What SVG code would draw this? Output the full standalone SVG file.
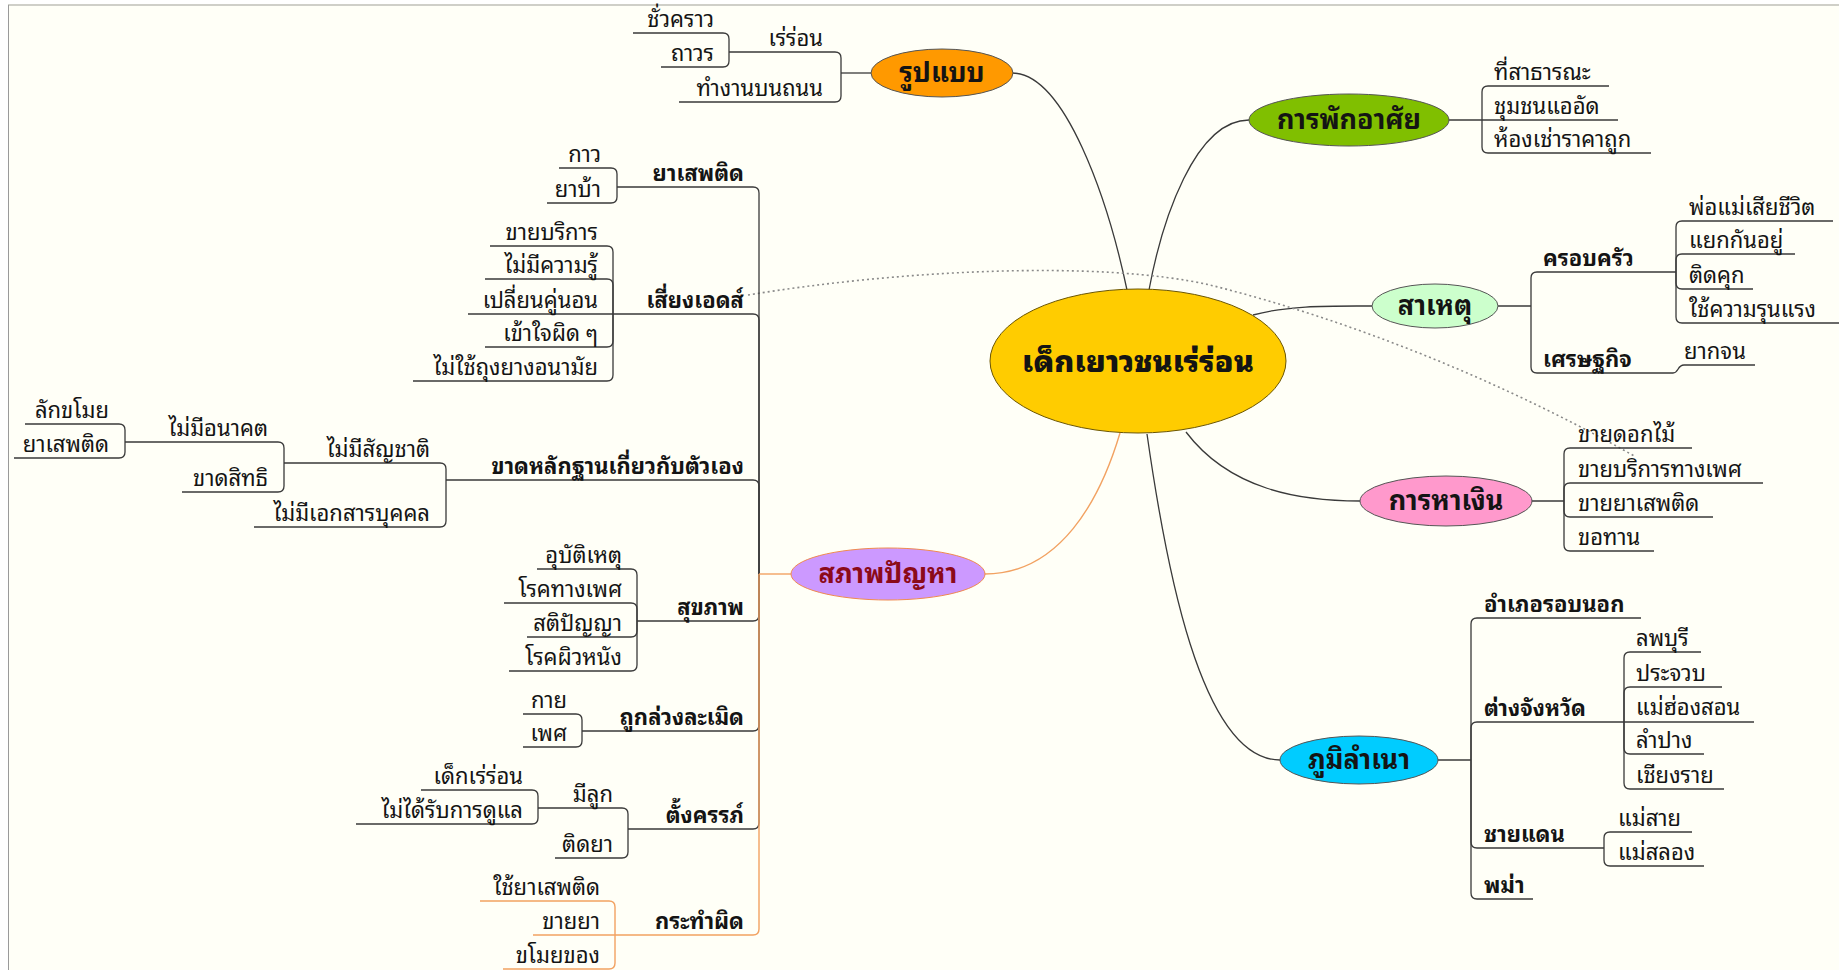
<svg xmlns="http://www.w3.org/2000/svg" width="1839" height="970" viewBox="0 0 1839 970">
<style>
.ln{fill:none;stroke:#3a3a3a;stroke-width:1.3}
.or{fill:none;stroke:#F2A262;stroke-width:1.4}
.dot{fill:none;stroke:#8a8a8a;stroke-width:1.6;stroke-dasharray:2 3}
text{font-family:"Noto Sans Thai Looped","Noto Sans Thai","Noto Serif Thai","Noto Sans","DejaVu Sans",sans-serif;font-size:22px;fill:#141414}
.b{font-weight:bold}
.e{text-anchor:end}
.m{text-anchor:middle;font-weight:bold;font-size:27px}
.c{text-anchor:middle;font-weight:900;font-size:30px}
.el{stroke:#555;stroke-width:1}
</style>
<rect x="0" y="0" width="1839" height="970" fill="#ffffff"/>
<rect x="8" y="5" width="1831" height="965" fill="#FFFFF7"/>
<line x1="8" y1="5" x2="1839" y2="5" stroke="#cfcfc8" stroke-width="2"/>
<line x1="8.5" y1="5" x2="8.5" y2="970" stroke="#9a9a9a" stroke-width="1"/>

<g id="connectors">
<path class="ln" d="M1012,73 C1065,73 1108,200 1127,290"/>
<path class="ln" d="M1249,120 C1195,120 1162,220 1149,290"/>
<path class="ln" d="M1253,315 C1290,305 1330,306 1372,306"/>
<path class="ln" d="M1186,432 C1230,490 1300,501 1360,501"/>
<path class="ln" d="M1147,434 C1165,560 1200,760 1280,760"/>
<path class="or" d="M985,574 C1060,574 1100,500 1120,433"/>
<path class="dot" d="M748,295 C900,270 1100,260 1210,285 C1350,320 1500,380 1636,457"/>
<path class="ln" d="M759,574 V193 Q759,187 753,187 H617"/>
<path class="ln" d="M759,574 V320 Q759,314 753,314 H613"/>
<path class="ln" d="M759,574 V486 Q759,480 753,480 H446"/>
<path class="ln" d="M759,574 V615 Q759,621 753,621 H637"/>
<path class="ln" d="M759,574 V725 Q759,731 753,731 H582"/>
<path class="ln" d="M759,574 V823 Q759,829 753,829 H628"/>
<path class="or" d="M759,574 V929 Q759,935 753,935 H615"/>
<path class="or" d="M791,574 H759"/>
<path class="ln" d="M617,187 V174 Q617,168 611,168 H559"/>
<path class="ln" d="M617,187 V197 Q617,203 611,203 H547"/>
<path class="ln" d="M613,314 V252 Q613,246 607,246 H490"/>
<path class="ln" d="M613,314 V285 Q613,279 607,279 H485"/>
<path class="ln" d="M613,314 H468"/>
<path class="ln" d="M613,314 V341 Q613,347 607,347 H485"/>
<path class="ln" d="M613,314 V375 Q613,381 607,381 H413"/>
<path class="ln" d="M446,480 V469 Q446,463 440,463 H284"/>
<path class="ln" d="M446,480 V521 Q446,527 440,527 H254"/>
<path class="ln" d="M284,463 V448 Q284,442 278,442 H125"/>
<path class="ln" d="M284,463 V486 Q284,492 278,492 H182"/>
<path class="ln" d="M125,442 V430 Q125,424 119,424 H25"/>
<path class="ln" d="M125,442 V452 Q125,458 119,458 H14"/>
<path class="ln" d="M637,621 V575 Q637,569 631,569 H537"/>
<path class="ln" d="M637,621 V609 Q637,603 631,603 H504"/>
<path class="ln" d="M637,621 V631 Q637,637 631,637 H527"/>
<path class="ln" d="M637,621 V665 Q637,671 631,671 H509"/>
<path class="ln" d="M582,731 V720 Q582,714 576,714 H523"/>
<path class="ln" d="M582,731 V741 Q582,747 576,747 H523"/>
<path class="ln" d="M628,829 V814 Q628,808 622,808 H538"/>
<path class="ln" d="M628,829 V852 Q628,858 622,858 H555"/>
<path class="ln" d="M538,808 V796 Q538,790 532,790 H421"/>
<path class="ln" d="M538,808 V818 Q538,824 532,824 H356"/>
<path class="or" d="M615,935 V907 Q615,901 609,901 H480"/>
<path class="or" d="M615,935 H533"/>
<path class="or" d="M615,935 V963 Q615,969 609,969 H503"/>
<path class="ln" d="M871,73 H841"/>
<path class="ln" d="M841,73 V58 Q841,52 835,52 H729"/>
<path class="ln" d="M841,73 V96 Q841,102 835,102 H679"/>
<path class="ln" d="M729,52 V39 Q729,33 723,33 H633"/>
<path class="ln" d="M729,52 V61 Q729,67 723,67 H661"/>
<path class="ln" d="M1448,120 H1482"/>
<path class="ln" d="M1482,120 V92 Q1482,86 1488,86 H1609"/>
<path class="ln" d="M1482,120 H1618"/>
<path class="ln" d="M1482,120 V147 Q1482,153 1488,153 H1651"/>
<path class="ln" d="M1498,306 H1531"/>
<path class="ln" d="M1531,306 V278 Q1531,272 1537,272 H1676"/>
<path class="ln" d="M1531,306 V367 Q1531,373 1537,373 H1673"/>
<path class="ln" d="M1673,373 C1679,373 1677,365 1684,365 H1755"/>
<path class="ln" d="M1676,272 V227 Q1676,221 1682,221 H1833"/>
<path class="ln" d="M1676,272 V260 Q1676,254 1682,254 H1795"/>
<path class="ln" d="M1676,272 V283 Q1676,289 1682,289 H1753"/>
<path class="ln" d="M1676,272 V317 Q1676,323 1682,323 H1845"/>
<path class="ln" d="M1531,501 H1564"/>
<path class="ln" d="M1564,501 V454 Q1564,448 1570,448 H1692"/>
<path class="ln" d="M1564,501 V489 Q1564,483 1570,483 H1763"/>
<path class="ln" d="M1564,501 V511 Q1564,517 1570,517 H1713"/>
<path class="ln" d="M1564,501 V545 Q1564,551 1570,551 H1654"/>
<path class="ln" d="M1438,760 H1471"/>
<path class="ln" d="M1471,760 V624 Q1471,618 1477,618 H1641"/>
<path class="ln" d="M1471,760 V728 Q1471,722 1477,722 H1624"/>
<path class="ln" d="M1471,760 V842 Q1471,848 1477,848 H1604"/>
<path class="ln" d="M1471,760 V893 Q1471,899 1477,899 H1533"/>
<path class="ln" d="M1624,722 V658 Q1624,652 1630,652 H1701"/>
<path class="ln" d="M1624,722 V693 Q1624,687 1630,687 H1722"/>
<path class="ln" d="M1624,722 H1754"/>
<path class="ln" d="M1624,722 V748 Q1624,754 1630,754 H1704"/>
<path class="ln" d="M1624,722 V783 Q1624,789 1630,789 H1724"/>
<path class="ln" d="M1604,848 V838 Q1604,832 1610,832 H1692"/>
<path class="ln" d="M1604,848 V860 Q1604,866 1610,866 H1704"/>
</g>

<g id="center">
<ellipse cx="1138" cy="361" rx="148" ry="72" fill="#FFCC00" stroke="#6b5500" stroke-width="1"/>
<text class="c" x="1138" y="372">เด็กเยาวชนเร่ร่อน</text>
</g>
<g id="n-rupbaep">
<ellipse class="el" cx="942" cy="73" rx="71" ry="24" fill="#FF9900"/>
<text class="m" x="942" y="82">รูปแบบ</text>
<text class="e" x="823" y="46">เร่ร่อน</text>
<text class="e" x="823" y="96">ทำงานบนถนน</text>
<text class="e" x="714" y="27">ชั่วคราว</text>
<text class="e" x="714" y="61">ถาวร</text>
</g>
<g id="n-phak">
<ellipse class="el" cx="1349" cy="120" rx="100" ry="26" fill="#80BF00"/>
<text class="m" x="1349" y="129">การพักอาศัย</text>
<text x="1494" y="80">ที่สาธารณะ</text>
<text x="1494" y="114">ชุมชนแออัด</text>
<text x="1494" y="147">ห้องเช่าราคาถูก</text>
</g>
<g id="n-sahet">
<ellipse class="el" cx="1435" cy="306" rx="63" ry="22" fill="#CCFFCC"/>
<text class="m" x="1435" y="315">สาเหตุ</text>
<text class="b" x="1543" y="266">ครอบครัว</text>
<text class="b" x="1543" y="367">เศรษฐกิจ</text>
<text x="1684" y="359">ยากจน</text>
<text x="1689" y="215">พ่อแม่เสียชีวิต</text>
<text x="1689" y="248">แยกกันอยู่</text>
<text x="1689" y="283">ติดคุก</text>
<text x="1689" y="317">ใช้ความรุนแรง</text>
</g>
<g id="n-hangoen">
<ellipse class="el" cx="1446" cy="501" rx="86" ry="25" fill="#FF99CC"/>
<text class="m" x="1446" y="510">การหาเงิน</text>
<text x="1578" y="442">ขายดอกไม้</text>
<text x="1578" y="477">ขายบริการทางเพศ</text>
<text x="1578" y="511">ขายยาเสพติด</text>
<text x="1578" y="545">ขอทาน</text>
</g>
<g id="n-phumi">
<ellipse class="el" cx="1359" cy="760" rx="79" ry="24" fill="#00CCFF"/>
<text class="m" x="1359" y="769">ภูมิลำเนา</text>
<text class="b" x="1484" y="612">อำเภอรอบนอก</text>
<text class="b" x="1484" y="716">ต่างจังหวัด</text>
<text class="b" x="1484" y="842">ชายแดน</text>
<text class="b" x="1484" y="893">พม่า</text>
<text x="1636" y="646">ลพบุรี</text>
<text x="1636" y="681">ประจวบ</text>
<text x="1636" y="715">แม่ฮ่องสอน</text>
<text x="1636" y="748">ลำปาง</text>
<text x="1636" y="783">เชียงราย</text>
<text x="1618" y="826">แม่สาย</text>
<text x="1618" y="860">แม่สลอง</text>
</g>
<g id="n-saphap">
<ellipse cx="888" cy="574" rx="97" ry="26" fill="#CC99FF" stroke="#F08A50" stroke-width="1"/>
<text class="m" x="888" y="583" style="fill:#8B0A1A">สภาพปัญหา</text>
<text class="b e" x="744" y="181">ยาเสพติด</text>
<text class="b e" x="744" y="308">เสี่ยงเอดส์</text>
<text class="b e" x="744" y="474">ขาดหลักฐานเกี่ยวกับตัวเอง</text>
<text class="b e" x="744" y="615">สุขภาพ</text>
<text class="b e" x="744" y="725">ถูกล่วงละเมิด</text>
<text class="b e" x="744" y="823">ตั้งครรภ์</text>
<text class="b e" x="744" y="929">กระทำผิด</text>
<text class="e" x="601" y="162">กาว</text>
<text class="e" x="601" y="197">ยาบ้า</text>
<text class="e" x="598" y="240">ขายบริการ</text>
<text class="e" x="598" y="273">ไม่มีความรู้</text>
<text class="e" x="598" y="308">เปลี่ยนคู่นอน</text>
<text class="e" x="598" y="341">เข้าใจผิด ๆ</text>
<text class="e" x="598" y="375">ไม่ใช้ถุงยางอนามัย</text>
<text class="e" x="430" y="457">ไม่มีสัญชาติ</text>
<text class="e" x="430" y="521">ไม่มีเอกสารบุคคล</text>
<text class="e" x="268" y="436">ไม่มีอนาคต</text>
<text class="e" x="268" y="486">ขาดสิทธิ</text>
<text class="e" x="109" y="418">ลักขโมย</text>
<text class="e" x="109" y="452">ยาเสพติด</text>
<text class="e" x="622" y="563">อุบัติเหตุ</text>
<text class="e" x="622" y="597">โรคทางเพศ</text>
<text class="e" x="622" y="631">สติปัญญา</text>
<text class="e" x="622" y="665">โรคผิวหนัง</text>
<text class="e" x="567" y="708">กาย</text>
<text class="e" x="567" y="741">เพศ</text>
<text class="e" x="613" y="802">มีลูก</text>
<text class="e" x="613" y="852">ติดยา</text>
<text class="e" x="523" y="784">เด็กเร่ร่อน</text>
<text class="e" x="523" y="818">ไม่ได้รับการดูแล</text>
<text class="e" x="600" y="895">ใช้ยาเสพติด</text>
<text class="e" x="600" y="929">ขายยา</text>
<text class="e" x="600" y="963">ขโมยของ</text>
</g>
</svg>
